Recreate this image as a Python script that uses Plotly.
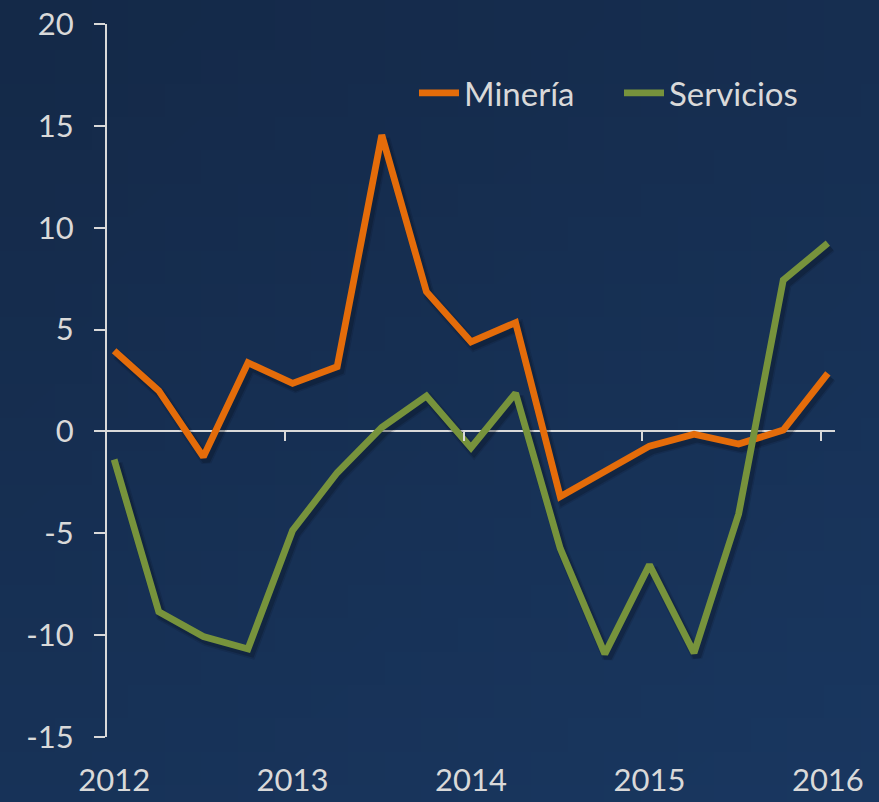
import base64
import struct
import zlib

import plotly.graph_objects as go

# ---- data ----
quarters = list(range(17))  # 2012Q1 .. 2016Q1
year_ticks = [0, 4, 8, 12, 16]
year_labels = ["2012", "2013", "2014", "2015", "2016"]

mineria = [3.96, 2.0, -1.25, 3.37, 2.36, 3.18, 14.55, 6.86, 4.4, 5.34,
           -3.2, -1.95, -0.72, -0.14, -0.62, 0.07, 2.85]
servicios = [-1.38, -8.85, -10.07, -10.68, -4.86, -2.03, 0.2, 1.74, -0.8, 1.88,
             -5.74, -10.92, -6.55, -10.87, -4.05, 7.43, 9.24]

y_ticks = [-15, -10, -5, 0, 5, 10, 15, 20]
y_labels = ["-15", "-10", "-5", "0", "5", "10", "15", "20"]
zero_ticks = [3.84, 7.84, 11.84, 15.84]

# ---- style ----
FONT = "Lato"
TXT = "#d9d9d9"
ORANGE = "#e46c0a"
GREEN = "#77933c"

W, H = 879, 802
ML, MR, MT, MB = 107, 44, 24, 65
PW, PH = W - ML - MR, H - MT - MB
XR = [-0.16, 16.16]
YR = [-15, 20]
XPU = PW / (XR[1] - XR[0])
YPU = PH / (YR[1] - YR[0])
SDX, SDY = 3, 4  # shadow offset in px


def gradient_png(c_tl, c_br, n=24):
    raw = b""
    for j in range(n):
        raw += b"\x00"
        for i in range(n):
            t = (0.35 * i / (n - 1) + 0.65 * j / (n - 1))
            raw += bytes(round(c_tl[k] + (c_br[k] - c_tl[k]) * t) for k in range(3))

    def chunk(tag, data):
        return (struct.pack(">I", len(data)) + tag + data
                + struct.pack(">I", zlib.crc32(tag + data) & 0xFFFFFFFF))

    ihdr = struct.pack(">IIBBBBB", n, n, 8, 2, 0, 0, 0)
    png = (b"\x89PNG\r\n\x1a\n" + chunk(b"IHDR", ihdr)
           + chunk(b"IDAT", zlib.compress(raw)) + chunk(b"IEND", b""))
    return "data:image/png;base64," + base64.b64encode(png).decode()


bg = gradient_png((20, 41, 72), (25, 55, 96))

fig = go.Figure()

# drop shadows (base subplot, shifted hidden axes)
for series in (mineria, servicios):
    for w, a in ((11, 0.12), (8, 0.22)):
        fig.add_trace(go.Scatter(x=quarters, y=series, mode="lines",
                                 line=dict(color=f"rgba(5,12,25,{a})", width=w),
                                 showlegend=False, hoverinfo="skip",
                                 xaxis="x", yaxis="y"))

# main lines (visible axes)
fig.add_trace(go.Scatter(x=quarters, y=mineria, mode="lines", name="Minería",
                         line=dict(color=ORANGE, width=6.8),
                         xaxis="x2", yaxis="y2"))
fig.add_trace(go.Scatter(x=quarters, y=servicios, mode="lines", name="Servicios",
                         line=dict(color=GREEN, width=6.8),
                         xaxis="x2", yaxis="y2"))

# invisible trace to activate xaxis3 (tick marks on the zero line)
fig.add_trace(go.Scatter(x=[XR[0]], y=[0], xaxis="x3", yaxis="y2",
                         mode="markers", marker=dict(opacity=0),
                         showlegend=False, hoverinfo="skip"))

fig.update_layout(
    width=W, height=H,
    margin=dict(l=ML, r=MR, t=MT, b=MB, pad=0, autoexpand=False),
    paper_bgcolor="#17305a",
    plot_bgcolor="rgba(0,0,0,0)",
    font=dict(family=FONT, color=TXT, size=31),
    showlegend=True,
    legend=dict(orientation="h", x=(414 - ML) / PW, y=1 - (93 - MT) / PH,
                xanchor="left", yanchor="middle", bgcolor="rgba(0,0,0,0)",
                font=dict(family=FONT, size=33, color=TXT),
                itemwidth=40, tracegroupgap=0,
                entrywidth=150, entrywidthmode="pixels"),
    xaxis=dict(range=[XR[0] - SDX / XPU, XR[1] - SDX / XPU], visible=False,
               automargin=False),
    yaxis=dict(range=[YR[0] + SDY / YPU, YR[1] + SDY / YPU], visible=False,
               automargin=False),
    xaxis2=dict(range=XR, overlaying="x", anchor="y2", automargin=False,
                tickvals=year_ticks, ticktext=year_labels,
                showgrid=False, zeroline=False, showline=False, ticks="",
                ticklabelstandoff=22,
                tickfont=dict(family=FONT, size=31, color=TXT)),
    yaxis2=dict(range=YR, overlaying="y", anchor="x2", automargin=False,
                tickvals=y_ticks, ticktext=y_labels, showgrid=False,
                zeroline=True, zerolinecolor=TXT, zerolinewidth=2,
                showline=True, linecolor=TXT, linewidth=2,
                ticks="outside", ticklen=11, tickwidth=2, tickcolor=TXT,
                ticklabelstandoff=14,
                tickfont=dict(family=FONT, size=31, color=TXT)),
    xaxis3=dict(range=XR, overlaying="x", anchor="free", automargin=False,
                position=15 / 35, side="bottom", tickvals=zero_ticks,
                ticks="outside", ticklen=9, tickwidth=2, tickcolor=TXT,
                showticklabels=False, showgrid=False, zeroline=False,
                showline=False),
    images=[dict(source=bg, xref="paper", yref="paper",
                 x=-ML / PW, y=1 + MT / PH, sizex=W / PW, sizey=H / PH,
                 xanchor="left", yanchor="top", sizing="stretch",
                 layer="below")],
)

fig.write_html("out.html",
               config={"displayModeBar": False},
               post_script="document.body.style.margin='0';"
                           "document.body.style.padding='0';")
